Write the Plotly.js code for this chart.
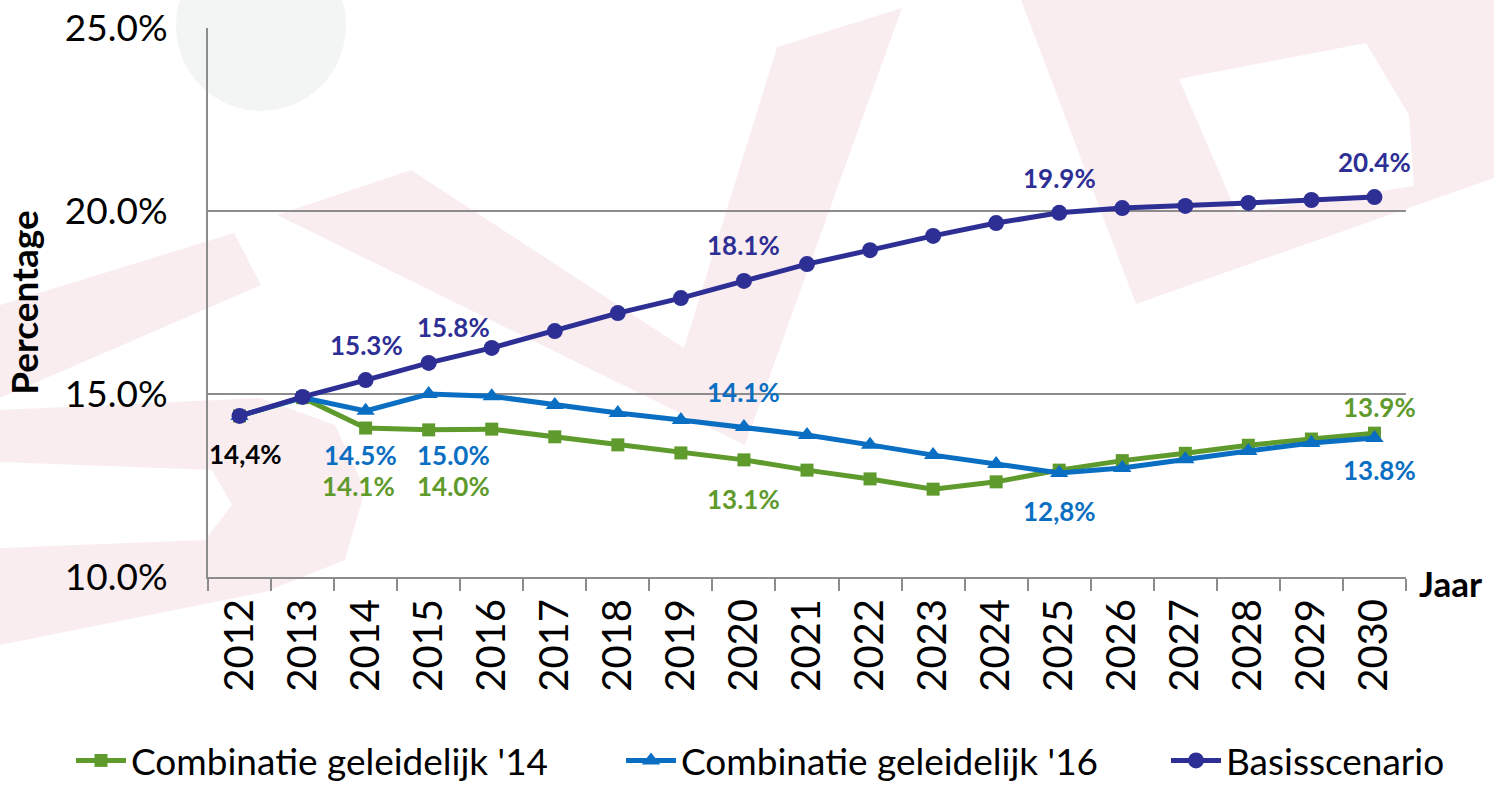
<!DOCTYPE html>
<html>
<head>
<meta charset="utf-8">
<script src="https://cdn.plot.ly/plotly-3.0.1.min.js"></script>
<style>
  html, body { margin: 0; padding: 0; background: #ffffff; }
  #chart { width: 1494px; height: 786px; }
</style>
</head>
<body>
<div id="chart"></div>
<script>
const years = ['2012','2013','2014','2015','2016','2017','2018','2019','2020','2021','2022','2023','2024','2025','2026','2027','2028','2029','2030'];

const comb14 = [14.4, 14.9, 14.07, 14.02, 14.04, 13.83, 13.61, 13.39, 13.2, 12.92, 12.68, 12.4, 12.6, 12.92, 13.18, 13.38, 13.6, 13.77, 13.93];
const comb16 = [14.4, 14.9, 14.54, 15.0, 14.94, 14.7, 14.48, 14.29, 14.1, 13.88, 13.61, 13.33, 13.09, 12.84, 12.98, 13.22, 13.44, 13.66, 13.8];
const basis  = [14.4, 14.92, 15.38, 15.85, 16.26, 16.72, 17.21, 17.62, 18.09, 18.55, 18.93, 19.32, 19.67, 19.95, 20.08, 20.14, 20.22, 20.3, 20.38];

const seriesNames = ["Combinatie geleidelijk '14", "Combinatie geleidelijk '16", "Basisscenario"];

// data labels per series
const labelYears14 = ['2014', '2015', '2020', '2030'];
const labelText14  = ['14.1%', '14.0%', '13.1%', '13.9%'];
const labelYears16 = ['2014', '2015', '2020', '2025', '2030'];
const labelText16  = ['14.5%', '15.0%', '14.1%', '12,8%', '13.8%'];
const labelYearsB  = ['2012', '2014', '2015', '2020', '2025', '2030'];
const labelTextB   = ['14,4%', '15.3%', '15.8%', '18.1%', '19.9%', '20.4%'];

const cGreen = '#5f9a2d';
const cBlue = '#0a6fc2';
const cPurple = '#2e2f94';
const font = 'Lato, "Open Sans", "Liberation Sans", sans-serif';

const traces = [
  {x: years, y: comb14, name: seriesNames[0], type: 'scatter', mode: 'lines+markers', legend: 'legend',
   line: {color: cGreen, width: 5}, marker: {symbol: 'square', size: 13, color: cGreen}},
  {x: years, y: comb16, name: seriesNames[1], type: 'scatter', mode: 'lines+markers', legend: 'legend2',
   line: {color: cBlue, width: 5}, marker: {symbol: 'triangle-up', size: 16, color: cBlue}},
  {x: years, y: basis, name: seriesNames[2], type: 'scatter', mode: 'lines+markers', legend: 'legend3',
   line: {color: cPurple, width: 5}, marker: {symbol: 'circle', size: 16, color: cPurple}}
];

// label offsets [xshift, yshift] (positioning only)
const off14 = [[-7,-58],[25,-56],[0,-39],[5,26]];
const off16 = [[-5,-44],[25,-61],[0,35],[0,-38],[5,-32]];
const offB  = [[6,-38],[1,35],[25,36],[0,36],[0,35],[0,35]];

const annotations = [];
function addLabels(ys, texts, arr, offs, color) {
  ys.forEach((yr, i) => {
    const idx = years.indexOf(yr);
    annotations.push({x: idx, y: arr[idx], xref: 'x', yref: 'y', text: '<b>' + texts[i] + '</b>',
      showarrow: false, xshift: offs[i][0], yshift: offs[i][1],
      font: {family: font, size: 26, color: (yr === '2012' ? '#000000' : color)}});
  });
}
addLabels(labelYears14, labelText14, comb14, off14, cGreen);
addLabels(labelYears16, labelText16, comb16, off16, cBlue);
addLabels(labelYearsB, labelTextB, basis, offB, cPurple);

annotations.push({xref: 'paper', yref: 'paper', x: 1.009, y: -0.011, xanchor: 'left', yanchor: 'middle',
  text: '<b>Jaar</b>', showarrow: false, font: {family: font, size: 35, color: '#000'}});

// faint background watermark (decoration), pixel coords -> paper coords
const L = 208, T = 28, W = 1198, H = 549;
function P(pts) {
  return pts.map((p, i) => (i ? 'L' : 'M') + ((p[0] - L) / W).toFixed(4) + ',' + ((T + H - p[1]) / H).toFixed(4)).join(' ') + ' Z';
}
const pink = '#faedf0';
const wm = [
  [[0,305],[234,233],[261,285],[0,398]],
  [[0,410],[260,398],[335,425],[365,490],[345,560],[265,592],[0,645],[0,548],[205,540],[232,505],[212,470],[0,462]],
  [[277,215],[411,170],[684,348],[777,47],[902,8],[745,445]]
];
const shapes = wm.map(pts => ({type: 'path', xref: 'paper', yref: 'paper', layer: 'below',
  path: P(pts), fillcolor: pink, line: {width: 0}}));
shapes.push({type: 'path', xref: 'paper', yref: 'paper', layer: 'below', fillrule: 'evenodd',
  path: P([[1021,0],[1494,0],[1494,178],[1136,304]]) + ' ' + P([[1179,79],[1366,43],[1409,115],[1414,186],[1237,213]]),
  fillcolor: pink, line: {width: 0}});
shapes.push({type: 'circle', xref: 'paper', yref: 'paper', layer: 'below',
  x0: (176 - L) / W, x1: (346 - L) / W, y0: (T + H - 111) / H, y1: (T + H + 60) / H,
  fillcolor: '#f3f5f4', line: {width: 0}});

function legendAt(xpx) {
  return {orientation: 'h', xref: 'container', x: xpx / 1494, xanchor: 'left', yref: 'container', y: 0.032, yanchor: 'middle',
    font: {family: font, size: 37, color: '#000'}, itemwidth: 50, bgcolor: 'rgba(0,0,0,0)'};
}

const layout = {
  width: 1494, height: 786,
  margin: {l: 208, r: 88, t: 28, b: 209},
  paper_bgcolor: '#ffffff', plot_bgcolor: 'rgba(0,0,0,0)',
  showlegend: true,
  legend: legendAt(71),
  legend2: legendAt(621),
  legend3: legendAt(1166),
  xaxis: {type: 'category', range: [-0.5, 18.5], tickangle: -90, tickson: 'boundaries', automargin: false,
    ticks: 'outside', ticklen: 12, tickcolor: '#8c8c8c', tickwidth: 2, ticklabelstandoff: 4,
    showline: true, linecolor: '#8c8c8c', linewidth: 2, showgrid: false, zeroline: false,
    tickfont: {family: font, size: 40, color: '#000'}, fixedrange: true},
  yaxis: {range: [10, 25], dtick: 5, tick0: 10, tickformat: '.1f', ticksuffix: '%', automargin: false,
    showline: true, linecolor: '#8c8c8c', linewidth: 2, showgrid: true, gridcolor: '#8c8c8c', gridwidth: 2,
    zeroline: false, ticks: '', ticklabelstandoff: 31,
    tickfont: {family: font, size: 37, color: '#000'},
    title: {text: '<b>Percentage</b>', font: {family: font, size: 37, color: '#000'}, standoff: 15}},
  annotations: annotations,
  shapes: shapes
};

Plotly.newPlot('chart', traces, layout, {displayModeBar: false, staticPlot: true});
</script>
</body>
</html>
